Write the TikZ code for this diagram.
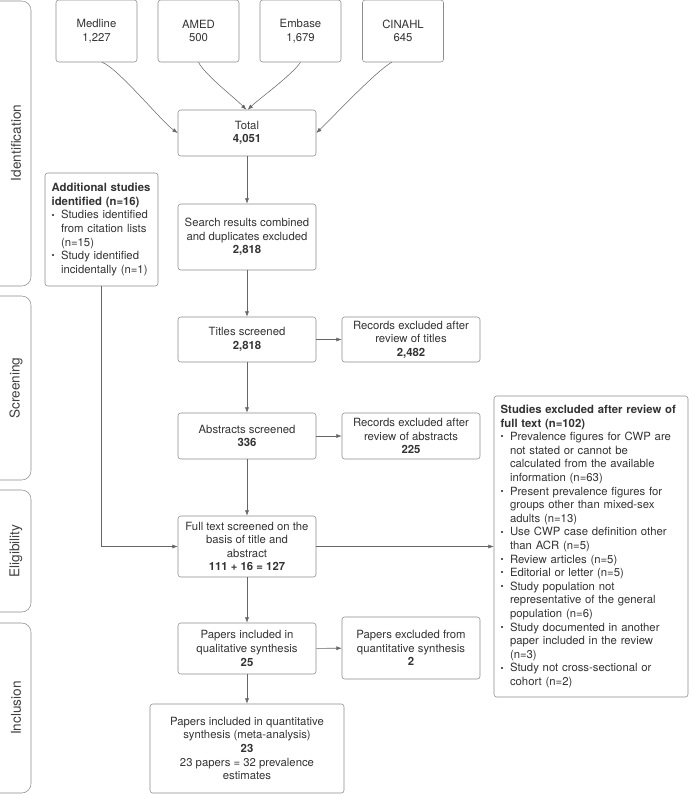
\documentclass[tikz,border=0pt]{standalone}
\usepackage{fontspec}
\setmainfont{TeX Gyre Heros}
\usetikzlibrary{arrows.meta}

\tikzset{
  box/.style={draw=black!45, rounded corners=2pt, align=center, text=black!80,
    font=\fontsize{8.5}{10.2}\selectfont, inner sep=0pt},
  dbbox/.style={box, minimum width=60.75pt, minimum height=46.5pt},
  mainbox/.style={box, minimum width=103.5pt},
  listbox/.style={box, align=left, inner xsep=5pt},
  flow/.style={draw=black!60, -{Latex[length=4pt,width=3pt]}},
  band/.style={draw=black!45, rounded corners=7pt},
  bandlabel/.style={rotate=90, font=\fontsize{10.2}{12}\selectfont, text=black!75}
}
\newcommand{\itm}{\makebox[7pt][l]{\raisebox{0.6pt}{\fontsize{6.5}{6.5}\selectfont\textbullet}}}
\newcommand{\cnt}{\hspace*{7pt}}

\begin{document}
\begin{tikzpicture}[x=0.75pt, y=-0.75pt]
    \useasboundingbox (0,0) rectangle (689,794);

    % Phase bands on the left
    \draw[band] (0,1) -- (31,1) -- (31,286) -- (0,286);
    \draw[band] (0,296) -- (31,296) -- (31,480) -- (0,480);
    \draw[band] (0,490) -- (31,490) -- (31,612) -- (0,612);
    \draw[band] (0,623) -- (31,623) -- (31,793) -- (0,793);
    \node[bandlabel] (lblIdent) at (16,143) {Identification};
    \node[bandlabel] (lblScreen) at (16,388) {Screening};
    \node[bandlabel] (lblElig) at (16,551) {Eligibility};
    \node[bandlabel] (lblIncl) at (16,708) {Inclusion};

    % Databases
    \node[dbbox] (Medline) at (96.5,31) {Medline\\1,227};
    \node[dbbox] (AMED) at (198.5,31) {AMED\\500};
    \node[dbbox] (Embase) at (300.5,31) {Embase\\1,679};
    \node[dbbox] (CINAHL) at (403,31) {CINAHL\\645};

    % Main column
    \node[mainbox, minimum height=34.5pt] (Total) at (247,133) {Total\\\textbf{4,051}};
    \node[mainbox, minimum height=49.5pt] (Search) at (247,237) {Search results combined\\and duplicates excluded\\\textbf{2,818}};
    \node[mainbox, minimum height=33.75pt] (Titles) at (247,339.5) {Titles screened\\\textbf{2,818}};
    \node[mainbox, minimum height=34.5pt] (Abstracts) at (247,436) {Abstracts screened\\\textbf{336}};
    \node[mainbox, minimum height=45.75pt] (FullText) at (247,546.5) {Full text screened on the\\basis of title and\\abstract\\\textbf{111 + 16 = 127}};
    \node[mainbox, minimum height=38.25pt] (Qualit) at (247,648.5) {Papers included in\\qualitative synthesis\\\textbf{25}};
    \node[box, minimum width=145.5pt, minimum height=66.75pt] (Quantit) at (247,748.5) {Papers included in quantitative\\synthesis (meta-analysis)\\\textbf{23}\\23 papers = 32 prevalence\\estimates};

    % Exclusions on the right
    \node[mainbox, minimum height=33.75pt] (ExclTitles) at (411,339.5) {Records excluded after\\review of titles\\\textbf{2,482}};
    \node[mainbox, minimum height=34.5pt] (ExclAbstr) at (411,436) {Records excluded after\\review of abstracts\\\textbf{225}};
    \node[mainbox, minimum height=46.5pt] (ExclQuant) at (411,648) {Papers excluded from\\quantitative synthesis\\\textbf{2}};

    % Lists
    \node[listbox, text width=74.75pt, minimum height=84.75pt] (Additional) at (101.5,229.5)
      {\textbf{Additional studies}\\\textbf{identified (n=16)}\\
       \itm Studies identified\\\cnt from citation lists\\\cnt (n=15)\\
       \itm Study identified\\\cnt incidentally (n=1)};
    \node[listbox, text width=135.5pt, minimum height=225.75pt] (ExclFull) at (591,546.5)
      {\textbf{Studies excluded after review of}\\\textbf{full text (n=102)}\\
       \itm Prevalence figures for CWP are\\\cnt not stated or cannot be\\\cnt calculated from the available\\\cnt information (n=63)\\
       \itm Present prevalence figures for\\\cnt groups other than mixed-sex\\\cnt adults (n=13)\\
       \itm Use CWP case definition other\\\cnt than ACR (n=5)\\
       \itm Review articles (n=5)\\
       \itm Editorial or letter (n=5)\\
       \itm Study population not\\\cnt representative of the general\\\cnt population (n=6)\\
       \itm Study documented in another\\\cnt paper included in the review\\\cnt (n=3)\\
       \itm Study not cross-sectional or\\\cnt cohort (n=2)};

    % Database arrows
    \draw[flow] (Medline.280) .. controls (118,68) and (162,122) .. (Total.west);
    \draw[flow] (AMED.south) .. controls (205,75) and (235,98) .. ([xshift=-0.5pt]Total.north);
    \draw[flow] (Embase.south) .. controls (292,75) and (260,98) .. ([xshift=0.5pt]Total.north);
    \draw[flow] (CINAHL.250) .. controls (375,72) and (330,120) .. (Total.east);

    % Main flow
    \draw[flow] (Total) -- (Search);
    \draw[flow] (Search) -- (Titles);
    \draw[flow] (Titles) -- (ExclTitles);
    \draw[flow] (Titles) -- (Abstracts);
    \draw[flow] (Abstracts) -- (ExclAbstr);
    \draw[flow] (Abstracts) -- (FullText);
    \draw[flow] (Additional.south) |- (FullText.west);
    \draw[flow] (FullText) -- (ExclFull);
    \draw[flow] (FullText) -- (Qualit);
    \draw[flow] (Qualit) -- (ExclQuant);
    \draw[flow] (Qualit) -- (Quantit);
\end{tikzpicture}
\end{document}
